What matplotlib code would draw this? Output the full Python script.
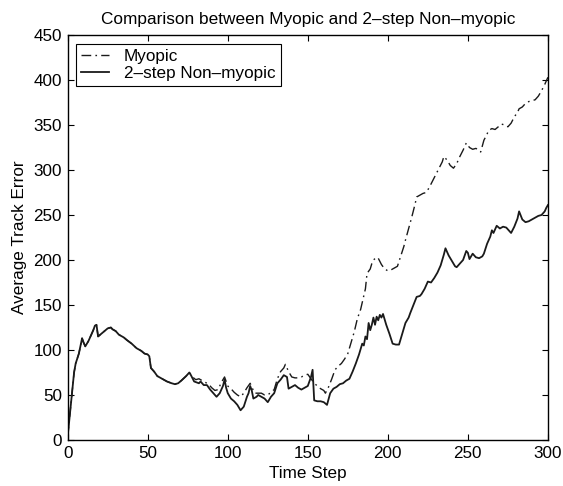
import numpy as np
import matplotlib
matplotlib.use('Agg')
import matplotlib.pyplot as plt

# shared start (both curves overlap until ~76)
early_steps = [0, 2, 4, 5, 7, 9, 10, 11, 13, 14, 16, 17, 18, 19, 21, 23, 25, 27, 28, 30,
               32, 35, 37, 40, 43, 46, 48, 50, 51, 52, 54, 56, 59, 62, 65, 67, 69, 71, 74, 76]
early_err = [4, 40, 75, 85, 96, 113, 108, 104, 110, 114, 122, 127, 128, 115, 118, 121, 124, 125, 123, 121,
             117, 114, 111, 107, 102, 99, 96, 95, 93, 80, 76, 71, 68, 65, 63, 62, 63, 66, 71, 75]

nonmyopic_steps = [77, 79, 82, 83, 85, 87, 89, 92, 93, 95, 97, 98, 99, 100, 102, 104, 106, 108, 110, 112,
                   113, 114, 115, 116, 118, 119, 121, 123, 125, 127, 129, 131, 133, 135, 137, 138, 140, 142, 144, 146,
                   148, 150, 152, 153, 154, 156, 158, 160, 162, 164, 166, 168, 170, 172, 174, 176, 178, 180, 182, 184,
                   185, 186, 187, 188, 189, 190, 191, 192, 193, 194, 195, 196, 197, 199, 201, 203, 205, 207, 209, 211,
                   213, 214, 216, 218, 220, 221, 223, 225, 227, 229, 231, 233, 235, 236, 238, 240, 242, 243, 245, 247,
                   248, 249, 250, 251, 253, 255, 257, 259, 260, 262, 264, 265, 266, 268, 270, 272, 274, 275, 277, 279,
                   281, 282, 284, 286, 288, 290, 292, 294, 296, 298, 299, 300]
nonmyopic_err = [72, 65, 63, 65, 61, 61, 56, 50, 48, 52, 60, 67, 58, 52, 46, 43, 39, 33, 37, 48,
                 52, 60, 55, 46, 48, 50, 48, 46, 42, 48, 52, 63, 67, 72, 70, 57, 59, 61, 58, 56,
                 58, 60, 70, 78, 44, 43, 43, 42, 39, 52, 57, 59, 62, 63, 66, 68, 76, 85, 95, 107,
                 105, 115, 112, 130, 122, 128, 136, 128, 137, 133, 139, 136, 140, 128, 118, 107, 106, 106, 118, 130,
                 136, 141, 150, 159, 160, 162, 168, 176, 175, 180, 186, 194, 206, 213, 205, 199, 193, 192, 196, 200,
                 205, 210, 208, 201, 207, 203, 202, 204, 207, 218, 226, 233, 230, 238, 235, 237, 236, 234, 230, 237,
                 246, 254, 245, 242, 243, 245, 247, 249, 250, 254, 258, 261]

myopic_steps = [78, 80, 82, 84, 86, 88, 90, 92, 94, 96, 98, 100, 102, 104, 106, 108, 110, 112, 114, 116,
                117, 119, 121, 123, 125, 127, 129, 131, 133, 135, 136, 138, 140, 142, 144, 146, 148, 150, 152, 154,
                156, 158, 160, 161, 163, 165, 167, 169, 171, 173, 175, 177, 179, 181, 183, 185, 186, 187, 189, 190,
                191, 193, 194, 196, 198, 200, 202, 204, 206, 208, 210, 211, 213, 215, 217, 218, 220, 222, 224, 226,
                228, 230, 232, 234, 235, 237, 239, 241, 243, 245, 247, 249, 251, 253, 255, 257, 258, 260, 262, 263,
                265, 267, 269, 271, 273, 275, 277, 279, 281, 282, 284, 286, 288, 290, 292, 294, 296, 298, 300]
myopic_err = [70, 67, 68, 66, 64, 62, 58, 55, 56, 64, 70, 60, 57, 53, 50, 48, 52, 58, 63, 55,
              52, 52, 52, 50, 50, 53, 56, 68, 76, 80, 84, 76, 70, 69, 69, 70, 72, 73, 68, 63,
              60, 57, 55, 52, 59, 68, 78, 82, 85, 90, 96, 108, 120, 135, 145, 160, 168, 185, 190, 196,
              200, 203, 202, 195, 190, 188, 189, 191, 193, 204, 215, 222, 235, 248, 262, 270, 272, 274, 275, 281,
              288, 295, 302, 309, 315, 311, 305, 302, 307, 315, 322, 330, 325, 323, 324, 322, 320, 333, 340, 344,
              346, 345, 348, 351, 350, 348, 352, 359, 364, 368, 370, 374, 376, 377, 378, 382, 388, 395, 403]

x_ticks = [0, 50, 100, 150, 200, 250, 300]
y_ticks = [0, 50, 100, 150, 200, 250, 300, 350, 400, 450]


def main():
    plt.rcParams['font.family'] = ['Liberation Sans', 'DejaVu Sans']
    plt.rcParams['font.size'] = 12

    fig = plt.figure(figsize=(5.63, 4.86), dpi=100)
    ax = fig.add_axes([0.1202, 0.0947, 0.853, 0.8333])

    my_x = early_steps + myopic_steps
    my_y = early_err + myopic_err
    nm_x = early_steps + nonmyopic_steps
    nm_y = early_err + nonmyopic_err

    ax.plot(my_x, my_y, color='#1a1a1a', linewidth=1.0,
            linestyle=(0, (7, 3, 1.2, 3)), label='Myopic')
    ax.plot(nm_x, nm_y, color='#1a1a1a', linewidth=1.3,
            linestyle='-', label='2\u2013step Non\u2013myopic')

    ax.set_xlim(0, 300)
    ax.set_ylim(0, 450)
    ax.set_xticks(x_ticks)
    ax.set_yticks(y_ticks)
    ax.tick_params(direction='in', top=True, right=True, length=4, width=0.8,
                   labelsize=12.3, pad=4)
    for s in ax.spines.values():
        s.set_linewidth(1.0)

    ax.set_title('Comparison between Myopic and 2\u2013step Non\u2013myopic', fontsize=12.4, pad=8)
    ax.set_xlabel('Time Step', fontsize=12.3, labelpad=4)
    ax.set_ylabel('Average Track Error', fontsize=12.3, labelpad=5)

    leg = ax.legend(loc='upper left', fancybox=False, framealpha=1, edgecolor='black',
                    fontsize=12.3, handlelength=1.6, borderpad=0.3, labelspacing=0.12,
                    borderaxespad=0.5, handletextpad=0.9)
    leg.get_frame().set_linewidth(0.8)

    fig.savefig('out.png', dpi=100)


if __name__ == "__main__":
    main()
